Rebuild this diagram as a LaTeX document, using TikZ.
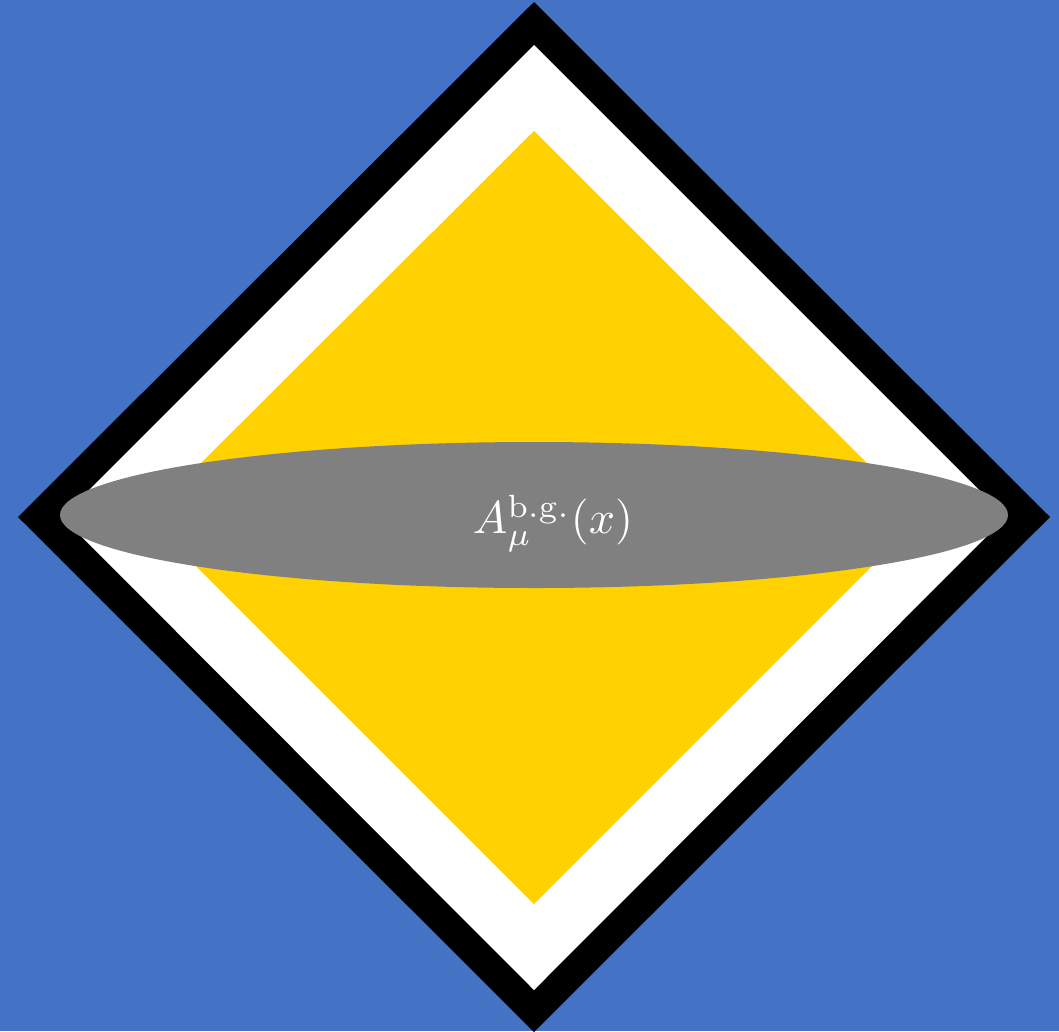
\documentclass[tikz,border=0pt]{standalone}
\usepackage{graphicx}
\usetikzlibrary{shapes.geometric}
\definecolor{bgblue}{HTML}{4472C4}
\definecolor{ylw}{HTML}{FFD100}
\definecolor{gry}{HTML}{808080}
\begin{document}
\begin{tikzpicture}[x=1pt,y=-1pt]
\useasboundingbox (0,0) rectangle (1059,1031);
\fill[bgblue] (0,0) rectangle (1059,1031);
\fill[black] (534,2) -- (1050,517) -- (534,1032) -- (18,517) -- cycle;
\fill[white] (534,45) -- (1006,517) -- (534,990) -- (62,517) -- cycle;
\fill[ylw] (534,131) -- (921,517) -- (534,904) -- (147,517) -- cycle;
\node[ellipse, fill=gry, minimum width=948pt, minimum height=146pt, inner sep=0pt] (bg) at (534,515) {};
\node[text=white, inner sep=0pt] (lbl) at (553,523) {\resizebox{160pt}{!}{$A_{\mu}^{\mathrm{b.g.}}(x)$}};
\end{tikzpicture}
\end{document}
